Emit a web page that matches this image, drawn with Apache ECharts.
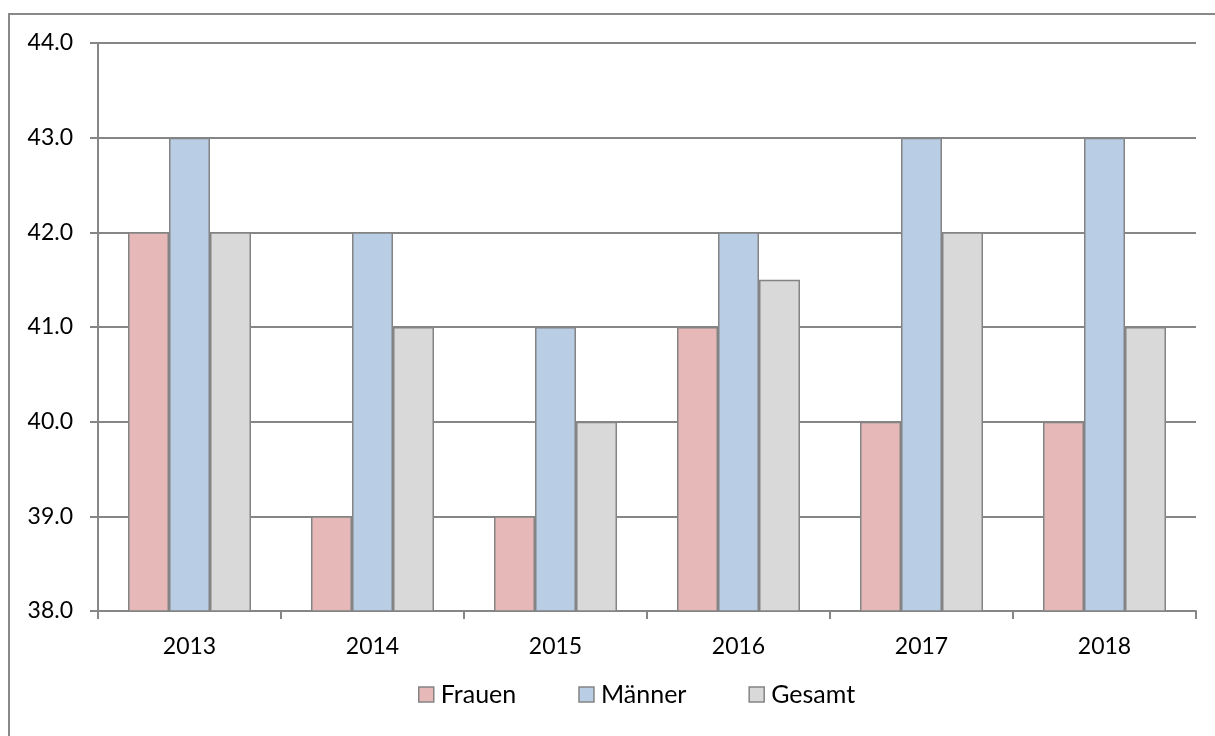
<!DOCTYPE html>
<html><head><meta charset="utf-8">
<script src="https://cdn.jsdelivr.net/npm/echarts@6/dist/echarts.min.js"></script>
<style>html,body{margin:0;padding:0;background:#fff}#c{width:1215px;height:736px}</style>
</head><body><div id="c"></div>
<script>
const categories = ['2013','2014','2015','2016','2017','2018'];
const frauen = [42, 39, 39, 41, 40, 40];
const maenner = [43, 42, 41, 42, 43, 43];
const gesamt = [42, 41, 40, 41.5, 42, 41];
const seriesNames = ['Frauen','Männer','Gesamt'];
const colors = ['#E6B9B8','#B9CDE5','#D9D9D9'];
const font = 'Lato, "Open Sans", sans-serif';
const chart = echarts.init(document.getElementById('c'));
const mk = (name, data, color) => ({
  name, type: 'bar', data, barWidth: 41, barGap: '0%',
  itemStyle: { color, borderColor: '#848484', borderWidth: 1.5 }
});
chart.setOption({
  animation: false,
  graphic: [{ type: 'rect', shape: { x: 9, y: 14, width: 1215, height: 730 },
    style: { fill: 'none', stroke: '#898989', lineWidth: 2 }, silent: true }],
  grid: { left: 98, right: 19, top: 43, bottom: 125 },
  legend: {
    data: seriesNames, top: 677, left: 413, itemWidth: 15, itemHeight: 15, itemGap: 62,
    icon: 'rect',
    textStyle: { fontFamily: font, fontSize: 25, color: '#000', padding: [0,0,0,2] },
    itemStyle: { borderColor: '#848484', borderWidth: 1.5 }
  },
  xAxis: {
    type: 'category', data: categories,
    axisLine: { lineStyle: { color: '#868686', width: 2 } },
    axisTick: { show: true, length: 8, lineStyle: { color: '#868686', width: 2 } },
    axisLabel: { fontFamily: font, fontSize: 23, color: '#000', margin: 24 }
  },
  yAxis: {
    type: 'value', min: 38, max: 44, interval: 1,
    axisLine: { show: true, lineStyle: { color: '#868686', width: 2 } },
    axisTick: { show: true, length: 8, lineStyle: { color: '#868686', width: 2 } },
    splitLine: { lineStyle: { color: '#868686', width: 2 } },
    axisLabel: { fontFamily: font, fontSize: 23, color: '#000', margin: 25,
      formatter: v => v.toFixed(1) }
  },
  series: [mk(seriesNames[0], frauen, colors[0]), mk(seriesNames[1], maenner, colors[1]), mk(seriesNames[2], gesamt, colors[2])]
});
</script></body></html>
